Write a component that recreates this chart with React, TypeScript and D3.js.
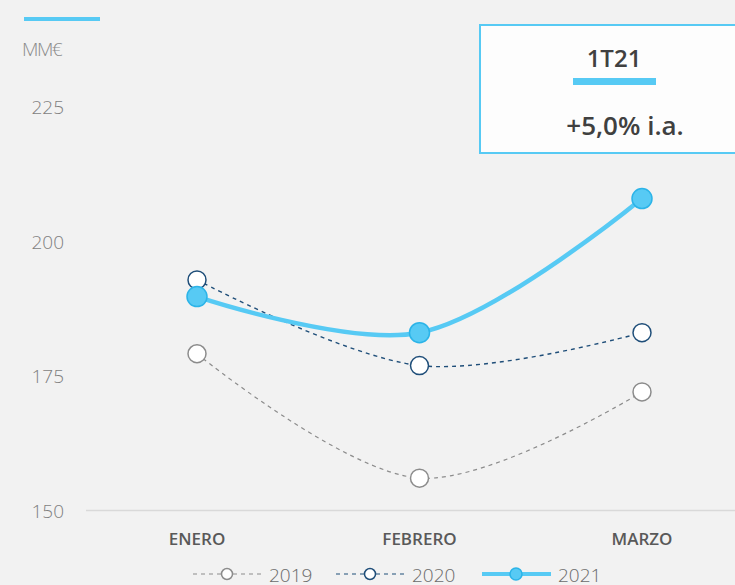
import { useEffect, useRef } from 'react';
import * as d3 from 'd3';

const months = ['ENERO', 'FEBRERO', 'MARZO'];
const yTicks = [150, 175, 200, 225];
const values2019 = [179.2, 156.1, 172.1];
const values2020 = [192.9, 177, 183.1];
const values2021 = [189.8, 183.1, 208];
const years = ['2019', '2020', '2021'];
const kpiPeriod = '1T21';
const kpiText = '+5,0% i.a.';
const unitLabel = 'MM€';

const FONT = "'Open Sans', 'Noto Sans', sans-serif";
const CYAN = '#57caf4';

const App = () => {
  const svgRef = useRef<SVGSVGElement>(null);

  useEffect(() => {
    if (!svgRef.current) return;
    const svg = d3.select(svgRef.current);
    svg.selectAll('*').remove();

    const width = 735;
    const height = 585;

    svg.append('rect').attr('width', width).attr('height', height).attr('fill', '#f2f2f2');

    // accent bar top-left
    svg.append('rect').attr('x', 24).attr('y', 17).attr('width', 76).attr('height', 4).attr('fill', CYAN);

    svg.append('text')
      .attr('x', 22).attr('y', 56)
      .attr('font-family', FONT).attr('font-size', 19).attr('font-weight', 300)
      .attr('letter-spacing', -1.5)
      .attr('fill', '#8a8a8a')
      .text(unitLabel);

    const xScale = d3.scalePoint<string>().domain(months).range([197, 642]);
    const yScale = d3.scaleLinear().domain([150, 225]).range([511, 107]);

    // y tick labels
    svg.append('g').selectAll('text')
      .data(yTicks)
      .enter()
      .append('text')
      .attr('x', 64)
      .attr('y', d => yScale(d) + 7)
      .attr('text-anchor', 'end')
      .attr('font-family', FONT).attr('font-size', 19).attr('font-weight', 300)
      .attr('fill', '#7f7f7f')
      .text(d => d);

    // baseline
    svg.append('line')
      .attr('x1', 86).attr('x2', width)
      .attr('y1', yScale(150) - 0.5).attr('y2', yScale(150) - 0.5)
      .attr('stroke', '#d9d9d9').attr('stroke-width', 1.5);

    // category labels
    svg.append('g').selectAll('text')
      .data(months)
      .enter()
      .append('text')
      .attr('x', d => xScale(d)!)
      .attr('y', 545)
      .attr('text-anchor', 'middle')
      .attr('font-family', FONT).attr('font-size', 17).attr('font-weight', 600)
      .attr('fill', '#595959')
      .text(d => d);

    const line = d3.line<number>()
      .x((_, i) => xScale(months[i])!)
      .y(d => yScale(d))
      .curve(d3.curveCatmullRom.alpha(0.5));

    const series = [
      { name: years[0], data: values2019, stroke: '#8c8c8c', width: 1.2, dash: '4,4', r: 9, fill: '#ffffff', mstroke: '#8c8c8c' },
      { name: years[1], data: values2020, stroke: '#1f4e79', width: 1.4, dash: '4,4', r: 9, fill: '#ffffff', mstroke: '#1f4e79' },
      { name: years[2], data: values2021, stroke: CYAN, width: 4.5, dash: null, r: 10, fill: CYAN, mstroke: '#2cb4e8' },
    ];

    series.forEach(s => {
      svg.append('path')
        .datum(s.data)
        .attr('d', line)
        .attr('fill', 'none')
        .attr('stroke', s.stroke)
        .attr('stroke-width', s.width)
        .attr('stroke-dasharray', s.dash);
      svg.append('g').selectAll('circle')
        .data(s.data)
        .enter()
        .append('circle')
        .attr('cx', (_, i) => xScale(months[i])!)
        .attr('cy', d => yScale(d))
        .attr('r', s.r)
        .attr('fill', s.fill)
        .attr('stroke', s.mstroke)
        .attr('stroke-width', 1.5);
    });

    // legend
    const legendX = [193, 336, 482];
    series.forEach((s, i) => {
      const g = svg.append('g').attr('transform', `translate(${legendX[i]}, 574)`);
      g.append('line')
        .attr('x1', 0).attr('x2', 69).attr('y1', 0).attr('y2', 0)
        .attr('stroke', s.stroke)
        .attr('stroke-width', i === 2 ? 4 : 1.2)
        .attr('stroke-dasharray', s.dash);
      g.append('circle')
        .attr('cx', 34).attr('cy', 0)
        .attr('r', i === 2 ? 6 : 5.5)
        .attr('fill', s.fill)
        .attr('stroke', s.mstroke)
        .attr('stroke-width', 1.5);
      g.append('text')
        .attr('x', 76).attr('y', 8)
        .attr('font-family', FONT).attr('font-size', 19).attr('font-weight', 300)
        .attr('fill', '#6b6b6b')
        .text(s.name);
    });

    // KPI box
    svg.append('rect')
      .attr('x', 480).attr('y', 25).attr('width', 270).attr('height', 128)
      .attr('fill', '#fdfdfd')
      .attr('stroke', CYAN).attr('stroke-width', 2);
    svg.append('text')
      .attr('x', 614).attr('y', 67)
      .attr('text-anchor', 'middle')
      .attr('font-family', FONT).attr('font-size', 24).attr('font-weight', 600)
      .attr('fill', '#404040')
      .text(kpiPeriod);
    svg.append('rect').attr('x', 573).attr('y', 78).attr('width', 83).attr('height', 7).attr('fill', CYAN);
    svg.append('text')
      .attr('x', 625).attr('y', 135)
      .attr('text-anchor', 'middle')
      .attr('font-family', FONT).attr('font-size', 26).attr('font-weight', 600)
      .attr('fill', '#404040')
      .text(kpiText);
  }, []);

  return (
    <svg
      ref={svgRef}
      width={735}
      height={585}
      viewBox="0 0 735 585"
      style={{ position: 'absolute', left: 0, top: 0, display: 'block' }}
    />
  );
};

export default App;
